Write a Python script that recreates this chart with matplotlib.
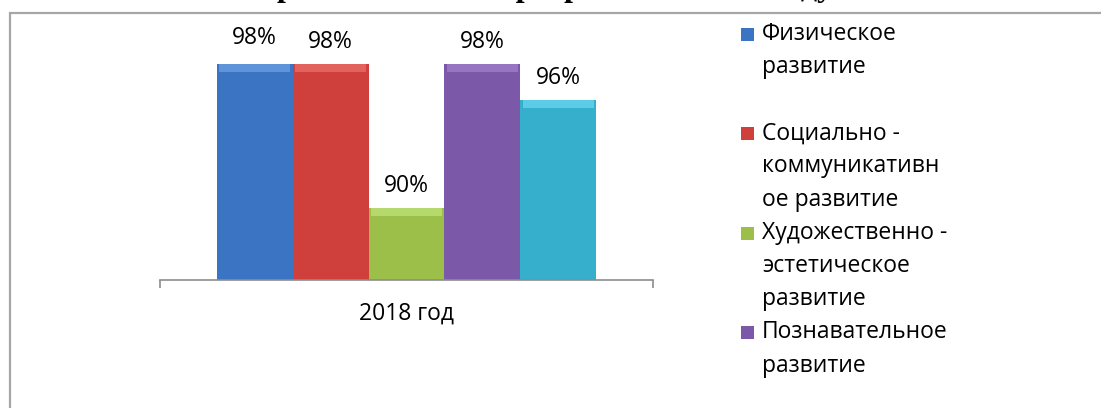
import matplotlib
matplotlib.use('Agg')
import matplotlib.pyplot as plt
from matplotlib.patches import Rectangle

# data
categories = ['Физическое развитие', 'Социально - коммуникативное развитие',
              'Художественно - эстетическое развитие', 'Познавательное развитие',
              'Речевое развитие']
# legend text as wrapped in the picture (the 5th entry falls below the picture)
legend_lines = [['Физическое', 'развитие'],
                ['Социально -', 'коммуникативн', 'ое развитие'],
                ['Художественно -', 'эстетическое', 'развитие'],
                ['Познавательное', 'развитие']]
values = [0.98, 0.98, 0.90, 0.98, 0.96]
value_labels = ['98%', '98%', '90%', '98%', '96%']
group_label = '2018 год'
title = 'образовательной программы в 2018 году'

colors = ['#3b74c2', '#cf3f3c', '#9bbf48', '#7c58a8', '#36afcd']
top_colors = ['#5f93da', '#e2625e', '#b6d96e', '#9775c0', '#5ccbe6']

plt.rcParams['font.family'] = ['Open Sans', 'DejaVu Sans']

W, H = 1101, 408
fig = plt.figure(figsize=(W / 100, H / 100), dpi=100)

# outer chart frame (right/bottom run off the picture)
fig.patches.append(Rectangle((10 / W, -0.1), 1.2, 1 - 13 / H + 0.1,
                             transform=fig.transFigure, fill=False,
                             edgecolor='#a6a6a6', linewidth=1.6))

# title sits mostly above the picture, only its lower edge shows
fig.text(539 / W, 1 + 4 / H, title, ha='center', va='baseline',
         fontfamily='Liberation Serif', fontweight='bold', fontsize=23)

ax = fig.add_axes([160 / W, 1 - 280 / H, (653 - 160) / W, 252 / H])
ax.set_ylim(0.86, 1.0)
ax.set_xlim(-3.25, 3.25)

xs = [i - 2 for i in range(len(values))]
band = 0.0045
ax.bar(xs, [v - 0.86 for v in values], bottom=0.86, width=1.0,
       color=colors, edgecolor='none')
# lighter bevel along the top of each bar
ax.bar(xs, [band] * len(values), bottom=[v - band for v in values], width=0.94,
       color=top_colors, edgecolor='none')

lift = {0: 3}
for i, (x, v, lab) in enumerate(zip(xs, values, value_labels)):
    ax.annotate(lab, (x, v), xytext=(0, 11.5 + lift.get(i, 0)),
                textcoords='offset points', ha='center', va='baseline',
                fontsize=16.5, color='black', annotation_clip=False)

for side in ['top', 'right', 'left']:
    ax.spines[side].set_visible(False)
ax.spines['bottom'].set_color('#8c8c8c')
ax.spines['bottom'].set_linewidth(1.2)
ax.set_yticks([])
ax.set_xticks([-3.25, 3.25])
ax.set_xticklabels([])
ax.tick_params(axis='x', direction='out', length=5.5, width=1.2, color='#8c8c8c')
ax.text(0.5, -34 / 252, group_label, transform=ax.transAxes, ha='center',
        va='center', fontsize=16.5)

# legend drawn by hand, one 3-line slot per entry
for i, lines in enumerate(legend_lines):
    yc = 34 + 99.5 * i
    fig.patches.append(Rectangle((741 / W, 1 - (yc + 6.5) / H), 13 / W, 13 / H,
                                 transform=fig.transFigure,
                                 facecolor=colors[i], edgecolor='none'))
    for j, line in enumerate(lines):
        fig.text(762 / W, 1 - (yc + 33 * j) / H, line, ha='left',
                 va='center', fontsize=16.5)

fig.savefig('out.png', dpi=100)
